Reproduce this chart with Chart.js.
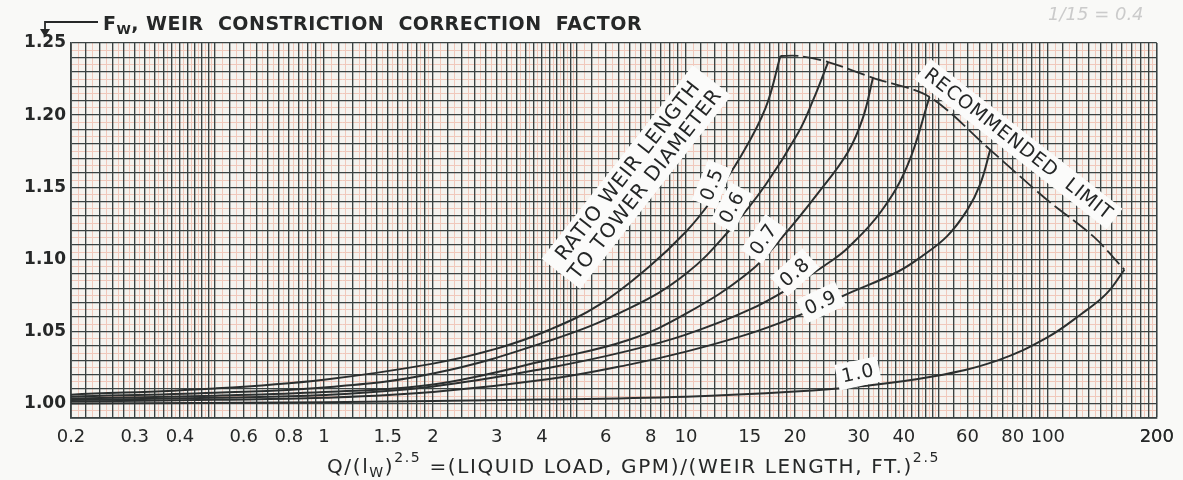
<!DOCTYPE html>
<html lang="en">
<head>
<meta charset="UTF-8">
<title>Weir constriction correction factor</title>
<script src="https://cdn.jsdelivr.net/npm/chart.js"></script>
<style>
  html, body { margin: 0; padding: 0; background: #f9f9f7; }
  canvas { display: block; }
</style>
</head>
<body>
<canvas id="fwChart" width="1183" height="480"></canvas>
<script>
// ratio weir length / tower diameter (one curve each)
const ratios = ['0.5', '0.6', '0.7', '0.8', '0.9', '1.0'];

// Q/(lw)^2.5 and Fw, per curve
const load05 = [0.2, 0.5, 1, 2, 3, 4.2, 5.77, 7.91, 10, 11.8, 14.25, 16.6, 18.24];
const fw05   = [1.0062, 1.0105, 1.0166, 1.0277, 1.0381, 1.0512, 1.0686, 1.0949, 1.1191, 1.1413, 1.1724, 1.2050, 1.2410];

const load06 = [0.2, 0.5, 1, 2, 4.2, 6.97, 10, 13.38, 16.6, 20.43, 22.47, 24.71];
const fw06   = [1.0048, 1.0075, 1.0111, 1.0208, 1.0436, 1.0660, 1.0900, 1.1219, 1.1517, 1.1877, 1.2105, 1.2368];

const load07 = [0.2, 0.5, 1, 2, 4.2, 6.97, 10, 14.99, 18.59, 23.2, 28.04, 30.83, 32.86];
const fw07   = [1.0035, 1.0055, 1.0080, 1.0132, 1.0305, 1.0443, 1.0623, 1.0914, 1.1163, 1.1461, 1.1745, 1.1981, 1.2258];

const load08 = [0.2, 0.5, 1, 2, 4.2, 6.97, 10, 14.99, 20.0, 25.02, 28.04, 34.56, 40.99, 47.1];
const fw08   = [1.0024, 1.0040, 1.0059, 1.0118, 1.0249, 1.0367, 1.0478, 1.0651, 1.0824, 1.0983, 1.1080, 1.1330, 1.1655, 1.2126];

const load09 = [0.2, 0.5, 1, 2, 4.2, 6.97, 10, 14.99, 20.0, 25.02, 28.04, 38.48, 45.07, 52.78, 59.9, 65.07, 69.3];
const fw09   = [1.0014, 1.0026, 1.0040, 1.0080, 1.0170, 1.0270, 1.0360, 1.0485, 1.0600, 1.0706, 1.0762, 1.0914, 1.1025, 1.1163, 1.1343, 1.1524, 1.1759];

const load10 = [0.2, 1, 4, 10, 20.0, 29.88, 48.0, 72.4, 99.4, 124, 145.2, 162.7];
const fw10   = [1.0000, 1.0010, 1.0028, 1.0048, 1.0083, 1.0118, 1.0187, 1.0298, 1.0457, 1.0623, 1.0762, 1.0928];

// recommended limit (dashed)
const limitLoad = [18.24, 20.43, 24.71, 32.86, 47.1, 69.3, 99.4, 133.8, 162.7];
const limitFw   = [1.2410, 1.2410, 1.2368, 1.2258, 1.2126, 1.1759, 1.1413, 1.1157, 1.0928];

// labelled ticks
const xTickLabels = [0.2, 0.3, 0.4, 0.6, 0.8, 1, 1.5, 2, 3, 4, 6, 8, 10, 15, 20, 30, 40, 60, 80, 100, 200];
const yTickLabels = ['1.00', '1.05', '1.10', '1.15', '1.20', '1.25'];

const loads = [load05, load06, load07, load08, load09, load10];
const fws = [fw05, fw06, fw07, fw08, fw09, fw10];

const INK = '#2b2f2f';
const GRID_DARK = '#3a4242';
const GRID_RED = '#f0c8bb';
const FONT = "'DejaVu Sans', sans-serif";

// log paper: dark lines and red half-steps
function logGrid(wantDark) {
  const out = [];
  const sections = [[1, 2, 0.05], [2, 5, 0.1], [5, 10, 0.25]];
  for (const b of [0.1, 1, 10, 100]) {
    for (const [s, e, step] of sections) {
      for (let k = 0; s + k * step < e - 1e-9; k++) {
        const v = Math.round((s + k * step) * b * 1e6) / 1e6;
        if (v < 0.2 - 1e-9 || v > 200 + 1e-9) continue;
        if ((k % 2 === 0) === wantDark) out.push(v);
      }
    }
  }
  if (wantDark) out.push(200);
  return out;
}
function linGrid(wantDark) {
  const out = [];
  for (let k = 198; k <= 250; k++) {
    if ((k % 2 === 0) === wantDark) out.push(k / 200);
  }
  return out;
}

const datasets = ratios.map((r, i) => ({
  label: r,
  data: loads[i].map((x, j) => ({ x: x, y: fws[i][j] })),
  borderColor: INK,
  borderWidth: 2,
  pointRadius: 0,
  fill: false,
  tension: 0.4
}));
datasets.push({
  label: 'Recommended limit',
  data: limitLoad.map((x, j) => ({ x: x, y: limitFw[j] })),
  borderColor: INK,
  borderWidth: 1.8,
  borderDash: [18, 5],
  pointRadius: 0,
  fill: false,
  tension: 0.3
});

// tags on the plot, placed in data units
const tagSpots = {
  '0.5': [11.8, 1.152, -68],
  '0.6': [13.4, 1.136, -62],
  '0.7': [16.4, 1.114, -55],
  '0.8': [20.0, 1.091, -42],
  '0.9': [23.6, 1.070, -25],
  '1.0': [29.9, 1.021, -12]
};

const paperPlugin = {
  id: 'paper',
  beforeDraw(chart) {
    const { ctx, chartArea: a } = chart;
    ctx.save();
    ctx.fillStyle = '#f9f9f7';
    ctx.fillRect(0, 0, chart.width, chart.height);
    ctx.fillStyle = '#f5f3ef';
    ctx.fillRect(a.left, a.top, a.right - a.left, a.bottom - a.top);
    ctx.restore();
  }
};

function box(ctx, cx, cy, rot, lines, size) {
  ctx.save();
  ctx.translate(cx, cy);
  ctx.rotate(rot * Math.PI / 180);
  ctx.font = size + 'px ' + FONT;
  ctx.letterSpacing = '1px';
  const lh = size * 1.1;
  const w = Math.max(...lines.map(t => ctx.measureText(t).width)) + 10;
  const h = lh * lines.length + 5;
  ctx.fillStyle = '#fbfbfa';
  ctx.fillRect(-w / 2, -h / 2, w, h);
  ctx.fillStyle = '#242626';
  ctx.textAlign = 'center';
  ctx.textBaseline = 'middle';
  lines.forEach((t, i) => ctx.fillText(t, 0, (i - (lines.length - 1) / 2) * lh + 1));
  ctx.restore();
}

const tagPlugin = {
  id: 'tags',
  afterDatasetsDraw(chart) {
    const { ctx, scales } = chart;
    const px = v => scales.x.getPixelForValue(v);
    const py = v => scales.y.getPixelForValue(v);
    ratios.forEach(r => {
      const [x, y, rot] = tagSpots[r];
      box(ctx, px(x), py(y), rot, [r], 19);
    });
    box(ctx, px(7.3), py(1.157), -52, ['RATIO WEIR LENGTH', 'TO TOWER DIAMETER'], 20);
    box(ctx, px(83), py(1.180), 38, ['RECOMMENDED  LIMIT'], 19);
  }
};

// text pieces in a row, stretched to a given right edge
function row(ctx, x, y, right, weight, pieces) {
  ctx.save();
  ctx.fillStyle = '#262828';
  ctx.textBaseline = 'alphabetic';
  let natural = 0, chars = 0;
  for (const [t, size] of pieces) {
    ctx.font = weight + ' ' + size + 'px ' + FONT;
    natural += ctx.measureText(t).width;
    chars += t.length;
  }
  ctx.letterSpacing = Math.max(0, (right - x - natural) / chars) + 'px';
  for (const [t, size, dy] of pieces) {
    ctx.font = weight + ' ' + size + 'px ' + FONT;
    ctx.fillText(t, x, y + dy);
    x += ctx.measureText(t).width;
  }
  ctx.restore();
}

const titlePlugin = {
  id: 'titles',
  afterDraw(chart) {
    const ctx = chart.ctx;
    // arrow pointing down to the y axis
    ctx.save();
    ctx.strokeStyle = '#262828';
    ctx.fillStyle = '#262828';
    ctx.lineWidth = 1.8;
    ctx.beginPath();
    ctx.moveTo(98, 22);
    ctx.lineTo(45, 22);
    ctx.lineTo(45, 30);
    ctx.stroke();
    ctx.beginPath();
    ctx.moveTo(40, 29);
    ctx.lineTo(50, 29);
    ctx.lineTo(45, 37);
    ctx.closePath();
    ctx.fill();
    ctx.restore();

    row(ctx, 103, 30, 642, 'bold', [
      ['F', 19, 0], ['W', 13, 4], [', WEIR  CONSTRICTION  CORRECTION  FACTOR', 19, 0]
    ]);

    row(ctx, 327, 473, 940, 'normal', [
      ['Q/(l', 20, 0], ['W', 14, 4], [')', 20, 0], ['2.5', 14, -11],
      [' =(LIQUID LOAD, GPM)/(WEIR LENGTH, FT.)', 20, 0], ['2.5', 14, -11]
    ]);

    // pencil note in the corner
    ctx.save();
    ctx.fillStyle = '#cbcbcb';
    ctx.font = 'italic 18px ' + FONT;
    ctx.fillText('1/15 = 0.4', 1048, 20);
    ctx.restore();
  }
};

new Chart(document.getElementById('fwChart'), {
  type: 'line',
  data: { datasets: datasets },
  options: {
    responsive: false,
    animation: false,
    layout: { padding: { top: 43, right: 23, bottom: 0, left: 0 } },
    plugins: { legend: { display: false }, tooltip: { enabled: false } },
    scales: {
      xr: {
        type: 'logarithmic', position: 'bottom', min: 0.2, max: 200,
        afterBuildTicks: s => { s.ticks = logGrid(false).map(v => ({ value: v })); },
        afterFit: s => { s.height = 0; },
        ticks: { display: false, autoSkip: false },
        grid: { color: GRID_RED, lineWidth: 1, drawTicks: false, z: -2 },
        border: { display: false }
      },
      yr: {
        type: 'linear', position: 'left', min: 0.99, max: 1.25,
        afterBuildTicks: s => { s.ticks = linGrid(false).map(v => ({ value: v })); },
        afterFit: s => { s.width = 0; },
        ticks: { display: false, autoSkip: false },
        grid: { color: GRID_RED, lineWidth: 1, drawTicks: false, z: -2 },
        border: { display: false }
      },
      x: {
        type: 'logarithmic', position: 'bottom', min: 0.2, max: 200,
        afterBuildTicks: s => { s.ticks = logGrid(true).map(v => ({ value: v })); },
        afterFit: s => { s.height = 62; },
        ticks: {
          autoSkip: false, maxRotation: 0, padding: 9, color: '#262828',
          font: { family: FONT, size: 18 },
          callback: v => {
            const r = Math.round(v * 1e6) / 1e6;
            return xTickLabels.includes(r) ? String(r) : '';
          }
        },
        grid: { color: GRID_DARK, lineWidth: 1.35, drawTicks: false, z: -1 },
        border: { color: GRID_DARK, width: 1.8 }
      },
      y: {
        type: 'linear', position: 'left', min: 0.99, max: 1.25,
        afterBuildTicks: s => { s.ticks = linGrid(true).map(v => ({ value: v })); },
        afterFit: s => { s.width = 71; },
        ticks: {
          autoSkip: false, padding: 5, color: '#262828',
          font: { family: FONT, size: 17, weight: 'bold' },
          callback: v => {
            const t = (Math.round(v * 200) / 200).toFixed(2);
            return yTickLabels.includes(t) ? t : '';
          }
        },
        grid: { color: GRID_DARK, lineWidth: 1.35, drawTicks: false, z: -1 },
        border: { color: GRID_DARK, width: 1.8 }
      }
    }
  },
  plugins: [paperPlugin, tagPlugin, titlePlugin]
});
</script>
</body>
</html>
